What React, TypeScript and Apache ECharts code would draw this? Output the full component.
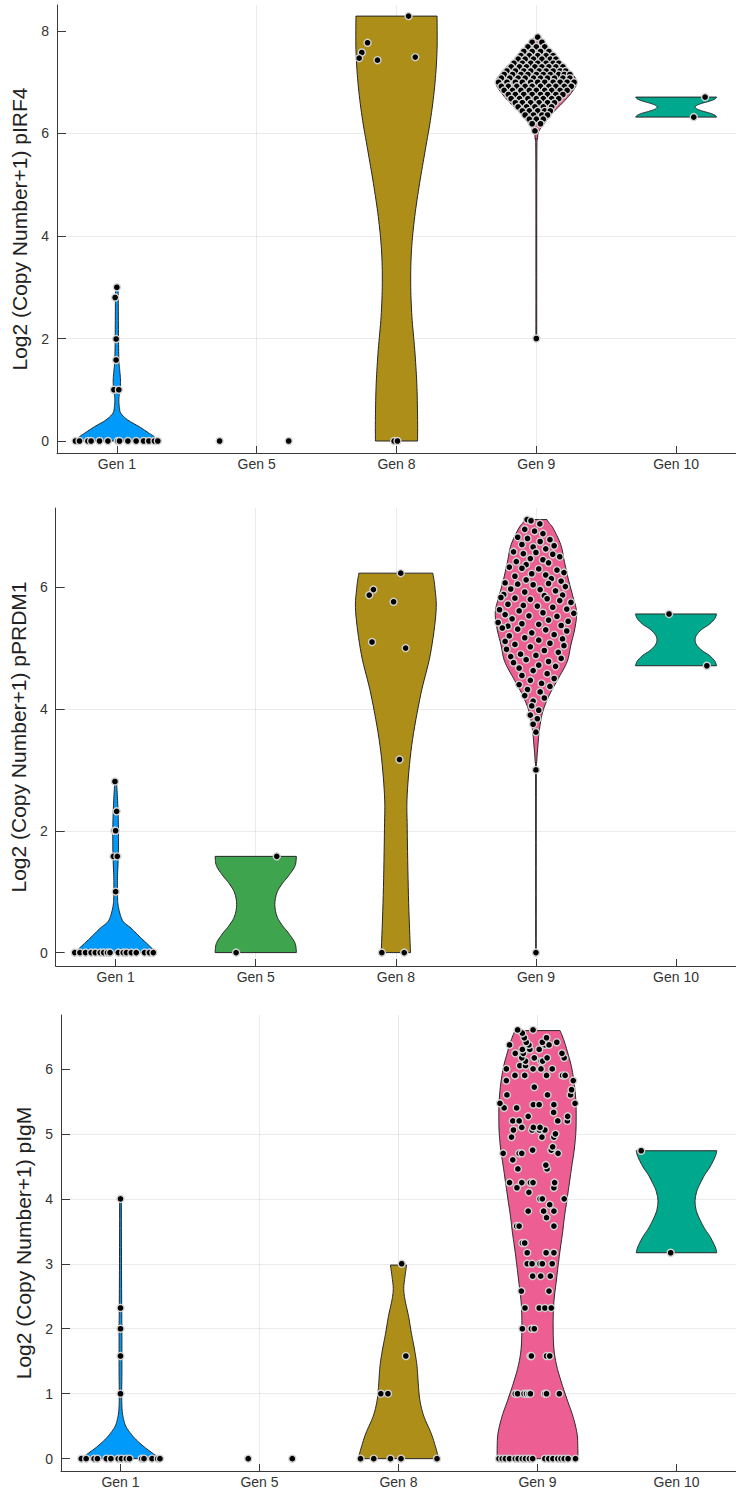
import React, { useEffect, useRef } from "react";
import * as echarts from "echarts";

// ---------- categories, colours, titles ----------
const genLabels = ["Gen 1", "Gen 5", "Gen 8", "Gen 9", "Gen 10"];
const genColors = ["#009AFA", "#3EA44E", "#AC8E18", "#ED5E93", "#00A98D"];
const yTitles = [
  "Log2 (Copy Number+1) pIRF4",
  "Log2 (Copy Number+1) pPRDM1",
  "Log2 (Copy Number+1) pIgM",
];
const yTicksIRF4 = [0, 2, 4, 6, 8];
const yTicksPRDM1 = [0, 2, 4, 6];
const yTicksIgM = [0, 1, 2, 3, 4, 5, 6];
const xTicks = [1, 2, 3, 4, 5];

// ---------- violin outlines: [y, relative half width] ----------
const irf4Gen1Violin = [[0, 1], [0.08, 0.93], [0.15, 0.8], [0.28, 0.55], [0.41, 0.27], [0.54, 0.1], [0.67, 0.06], [0.8, 0.05], [0.9, 0.06], [1.0, 0.08], [1.19, 0.09], [1.39, 0.07], [1.58, 0.05], [2.1, 0.04], [2.75, 0.035], [3.0, 0.03]];
const irf4Gen8Violin = [[0, 0.52], [0.47, 0.52], [1.13, 0.5], [1.78, 0.45], [2.43, 0.38], [3.08, 0.35], [3.73, 0.37], [4.38, 0.45], [5.03, 0.57], [5.68, 0.71], [6.33, 0.85], [6.99, 0.95], [7.64, 1.0], [8.29, 1.0]];
const irf4Gen9Violin = [[2.0, 0.01], [5.5, 0.012], [5.9, 0.03], [6.04, 0.06], [6.2, 0.2], [6.4, 0.4], [6.6, 0.65], [6.8, 0.87], [7.0, 1.0], [7.2, 0.85], [7.4, 0.6], [7.6, 0.35], [7.75, 0.15], [7.88, 0.05]];
const irf4Gen10Violin = [[6.32, 1], [6.36, 0.95], [6.4, 0.82], [6.44, 0.64], [6.48, 0.51], [6.515, 0.47], [6.55, 0.51], [6.59, 0.64], [6.63, 0.82], [6.67, 0.95], [6.71, 1]];

const prdm1Gen1Violin = [[0, 1], [0.08, 0.88], [0.23, 0.64], [0.4, 0.38], [0.5, 0.2], [0.61, 0.12], [0.78, 0.06], [0.95, 0.045], [1.22, 0.045], [1.49, 0.06], [1.77, 0.07], [2.04, 0.07], [2.3, 0.06], [2.6, 0.04], [2.81, 0.02]];
const prdm1Gen5Violin = [[0, 1], [0.15, 0.97], [0.3, 0.83], [0.45, 0.65], [0.6, 0.52], [0.79, 0.47], [0.98, 0.52], [1.13, 0.65], [1.28, 0.83], [1.43, 0.97], [1.58, 1]];
const prdm1Gen8Violin = [[0, 0.36], [0.94, 0.31], [2.04, 0.28], [2.6, 0.28], [3.4, 0.39], [4.23, 0.61], [4.9, 0.85], [5.6, 0.99], [6.0, 0.96], [6.23, 0.91]];
const prdm1Gen9Violin = [[0, 0.006], [2.8, 0.008], [3.14, 0.02], [3.41, 0.05], [3.68, 0.09], [3.96, 0.17], [4.23, 0.33], [4.5, 0.55], [4.78, 0.77], [5.05, 0.86], [5.33, 0.96], [5.6, 1.0], [5.87, 0.9], [6.15, 0.79], [6.42, 0.7], [6.7, 0.61], [6.97, 0.42], [7.05, 0.33], [7.11, 0.27]];
const prdm1Gen10Violin = [[4.71, 1], [4.79, 0.95], [4.88, 0.82], [4.96, 0.64], [5.05, 0.51], [5.135, 0.47], [5.22, 0.51], [5.31, 0.64], [5.39, 0.82], [5.48, 0.95], [5.56, 1]];

const igmGen1Violin = [[0, 1], [0.06, 0.85], [0.18, 0.59], [0.29, 0.39], [0.39, 0.25], [0.49, 0.14], [0.6, 0.08], [0.75, 0.04], [1.0, 0.03], [1.3, 0.035], [1.6, 0.035], [2.0, 0.035], [2.32, 0.03], [3.0, 0.025], [4.0, 0.02]];
const igmGen8Violin = [[0, 1.0], [0.18, 0.92], [0.39, 0.81], [0.65, 0.63], [0.9, 0.53], [1.16, 0.49], [1.42, 0.46], [1.67, 0.4], [1.93, 0.32], [2.19, 0.25], [2.45, 0.16], [2.62, 0.13], [2.8, 0.16], [2.98, 0.2]];
const igmGen9Violin = [[0, 1.0], [0.18, 1.0], [0.39, 0.98], [0.65, 0.88], [0.9, 0.74], [1.16, 0.6], [1.42, 0.48], [1.67, 0.41], [1.93, 0.39], [2.19, 0.39], [2.44, 0.41], [2.7, 0.46], [2.96, 0.51], [3.21, 0.56], [3.47, 0.62], [3.73, 0.67], [3.98, 0.73], [4.24, 0.79], [4.5, 0.85], [4.75, 0.91], [5.01, 0.95], [5.27, 0.96], [5.52, 0.95], [5.78, 0.91], [6.04, 0.84], [6.29, 0.73], [6.45, 0.65], [6.59, 0.56]];
const igmGen10Violin = [[3.17, 1], [3.26, 0.96], [3.42, 0.83], [3.54, 0.7], [3.67, 0.59], [3.8, 0.5], [3.955, 0.46], [4.11, 0.5], [4.24, 0.59], [4.37, 0.7], [4.49, 0.83], [4.65, 0.96], [4.74, 1]];

// ---------- individual cells: [horizontal offset from the category, y] ----------
const irf4Gen1Points = [[-0.296, 0], [-0.267, 0], [-0.207, 0], [-0.184, 0], [-0.124, 0], [-0.064, 0], [0.007, 0], [0.019, 0], [0.079, 0], [0.138, 0], [0.191, 0], [0.229, 0], [0.269, 0], [0.293, 0], [0, 3.0], [-0.012, 2.8], [-0.005, 1.99], [-0.005, 1.58], [-0.021, 1.0], [0.014, 1.0]];
const irf4Gen5Points = [[-0.265, 0], [0.229, 0]];
const irf4Gen8Points = [[0.086, 8.29], [-0.207, 7.77], [-0.248, 7.58], [-0.267, 7.47], [-0.136, 7.43], [0.134, 7.49], [-0.017, 0], [0.007, 0]];
// Gen 9 pIRF4: rows of [y, offsets]
const irf4Gen9Rows: [number, number[]][] = [
  [7.88, [0.01]],
  [7.78, [-0.03, 0.04]],
  [7.69, [-0.06, 0.0, 0.06]],
  [7.6, [-0.09, -0.03, 0.03, 0.09]],
  [7.52, [-0.11, -0.05, 0.01, 0.07, 0.12]],
  [7.45, [-0.13, -0.08, -0.02, 0.04, 0.1, 0.14]],
  [7.37, [-0.16, -0.1, -0.04, 0.01, 0.07, 0.12, 0.16]],
  [7.3, [-0.18, -0.12, -0.07, -0.01, 0.04, 0.09, 0.14, 0.19]],
  [7.22, [-0.21, -0.15, -0.09, -0.04, 0.02, 0.07, 0.12, 0.17, 0.21]],
  [7.15, [-0.23, -0.17, -0.11, -0.06, 0.0, 0.05, 0.1, 0.16, 0.2, 0.24]],
  [7.08, [-0.25, -0.19, -0.13, -0.08, -0.02, 0.03, 0.08, 0.13, 0.19, 0.24]],
  [7.0, [-0.27, -0.21, -0.15, -0.1, -0.04, 0.01, 0.06, 0.12, 0.17, 0.22, 0.27]],
  [6.92, [-0.25, -0.2, -0.14, -0.08, -0.03, 0.03, 0.09, 0.14, 0.2, 0.25]],
  [6.84, [-0.23, -0.17, -0.11, -0.05, 0.0, 0.06, 0.11, 0.17, 0.22]],
  [6.76, [-0.2, -0.15, -0.09, -0.03, 0.03, 0.08, 0.14, 0.19]],
  [6.68, [-0.18, -0.12, -0.06, 0.0, 0.05, 0.11, 0.16]],
  [6.6, [-0.15, -0.1, -0.04, 0.02, 0.08, 0.13]],
  [6.52, [-0.13, -0.07, -0.01, 0.05, 0.11]],
  [6.44, [-0.1, -0.05, 0.01, 0.06, 0.1]],
  [6.36, [-0.08, -0.02, 0.04, 0.08]],
  [6.28, [-0.05, 0.0, 0.05]],
  [6.19, [-0.03, 0.03]],
  [6.05, [-0.01]],
  [2.0, [0.0]],
];
const irf4Gen10Points = [[0.207, 6.71], [0.126, 6.32]];

const prdm1Gen1Points = [[-0.292, 0], [-0.255, 0], [-0.215, 0], [-0.175, 0], [-0.145, 0], [-0.11, 0], [-0.086, 0], [-0.058, 0], [-0.04, 0], [0.019, 0], [0.054, 0], [0.077, 0], [0.112, 0], [0.147, 0], [0.206, 0], [0.241, 0], [0.269, 0], [-0.005, 2.81], [0.007, 2.32], [-0.009, 2.0], [0.0, 2.0], [-0.016, 1.58], [0.012, 1.58], [0, 1.0]];
const prdm1Gen5Points = [[0.15, 1.58], [-0.14, 0]];
const prdm1Gen8Points = [[0.035, 6.23], [-0.16, 5.96], [-0.19, 5.87], [-0.016, 5.76], [-0.17, 5.1], [0.07, 5.0], [0.026, 3.17], [-0.1, 0], [0.06, 0]];
const prdm1Gen9Points = [
  [-0.063, 7.11], [-0.035, 7.09], [0.028, 7.04], [-0.08, 6.95], [-0.01, 6.92], [0.05, 6.88],
  [-0.13, 6.82], [-0.06, 6.8], [0.1, 6.78], [0.03, 6.75], [-0.1, 6.7], [0.13, 6.68], [-0.02, 6.66], [0.07, 6.63],
  [-0.16, 6.58], [-0.09, 6.55], [0.0, 6.57], [0.12, 6.54], [0.17, 6.5], [-0.04, 6.47], [0.05, 6.45], [-0.14, 6.42], [0.09, 6.4], [-0.07, 6.37],
  [-0.19, 6.33], [-0.1, 6.31], [0.02, 6.3], [0.15, 6.28], [0.2, 6.24], [-0.03, 6.22], [0.07, 6.2], [-0.15, 6.18], [0.11, 6.14], [-0.07, 6.12], [0.18, 6.1],
  [-0.22, 6.07], [-0.13, 6.05], [-0.02, 6.04], [0.09, 6.06], [0.21, 6.01], [-0.18, 5.97], [0.03, 5.96], [0.14, 5.94], [-0.08, 5.92], [-0.23, 5.88], [0.19, 5.87], [0.06, 5.86],
  [-0.25, 5.83], [-0.15, 5.82], [-0.04, 5.8], [0.08, 5.81], [0.17, 5.78], [0.25, 5.75], [-0.2, 5.72], [-0.09, 5.7], [0.01, 5.69], [0.12, 5.67], [0.22, 5.64], [-0.26, 5.63], [-0.12, 5.61],
  [0.05, 5.58], [0.27, 5.57], [-0.22, 5.55], [-0.05, 5.53], [0.15, 5.52], [-0.17, 5.48], [0.09, 5.46], [0.23, 5.44], [-0.27, 5.42], [-0.1, 5.4], [0.02, 5.39], [0.18, 5.37], [-0.2, 5.36],
  [-0.24, 5.33], [-0.13, 5.31], [0.07, 5.3], [0.22, 5.28], [-0.03, 5.25], [0.13, 5.22], [-0.19, 5.2], [-0.08, 5.17], [0.19, 5.15], [0.02, 5.13], [-0.22, 5.11],
  [0.1, 5.08], [-0.15, 5.06], [0.2, 5.04], [-0.04, 5.02], [-0.21, 4.98], [0.06, 4.96], [0.16, 4.93], [-0.11, 4.9], [0.0, 4.88], [-0.18, 4.86],
  [0.18, 4.83], [-0.07, 4.81], [0.09, 4.78], [-0.16, 4.76], [0.02, 4.72], [0.14, 4.7], [-0.12, 4.67], [-0.02, 4.63],
  [0.08, 4.58], [-0.1, 4.55], [0.13, 4.5], [-0.04, 4.47], [0.04, 4.42], [-0.12, 4.4], [0.1, 4.37],
  [-0.06, 4.32], [0.03, 4.28], [-0.08, 4.22], [0.06, 4.18], [-0.02, 4.13],
  [-0.03, 4.05], [0.02, 3.98], [-0.04, 3.9], [0.01, 3.84],
  [-0.02, 3.75], [0.0, 3.62], [0, 3.0], [0, 0],
];
const prdm1Gen10Points = [[-0.05, 5.56], [0.22, 4.71]];

const igmGen1Points = [[-0.282, 0], [-0.247, 0], [-0.19, 0], [-0.166, 0], [-0.102, 0], [-0.069, 0], [-0.016, 0], [0.007, 0], [0.042, 0], [0.065, 0], [0.153, 0], [0.169, 0], [0.227, 0], [0.268, 0], [0.284, 0], [0, 4.0], [0, 2.32], [0, 2.0], [0, 1.58], [0, 1.0]];
const igmGen5Points = [[-0.081, 0], [0.236, 0]];
const igmGen8Points = [[-0.273, 0], [-0.178, 0], [-0.058, 0], [0.018, 0], [0.277, 0], [-0.127, 1.0], [-0.076, 1.0], [0.053, 1.58], [0.023, 3.0]];
const igmGen9Points = [
  [-0.277, 0], [-0.254, 0], [-0.231, 0], [-0.201, 0], [-0.16, 0], [-0.139, 0], [-0.109, 0], [-0.086, 0], [-0.058, 0], [-0.035, 0], [0.053, 0], [0.081, 0], [0.111, 0], [0.146, 0], [0.169, 0], [0.192, 0], [0.22, 0], [0.273, 0],
  [-0.16, 1.0], [-0.143, 1.0], [-0.097, 1.0], [-0.079, 1.0], [-0.062, 1.0], [-0.051, 1.0], [0.053, 1.0], [0.065, 1.0], [0.157, 1.0],
  [-0.051, 1.58], [-0.044, 1.58], [0.065, 1.58], [0.088, 1.58],
  [-0.109, 2.0], [-0.044, 2.0], [-0.023, 2.0],
  [-0.09, 2.32], [0.012, 2.32], [0.053, 2.32], [0.099, 2.32],
  [-0.116, 2.58], [0.083, 2.58],
  [-0.035, 2.81], [0.023, 2.81], [0.092, 2.81],
  [-0.074, 3.0], [-0.039, 3.0], [0.018, 3.0], [0.035, 3.0], [0.106, 3.0],
  [-0.074, 3.17], [0.062, 3.17], [0.118, 3.17],
  [-0.109, 3.32], [-0.092, 3.32],
  [-0.15, 3.58], [-0.132, 3.58], [0.118, 3.58],
  [0.065, 3.71], [-0.067, 3.81], [0.044, 3.81], [0.118, 3.81], [0.088, 3.91],
  [0.018, 4.0], [0.035, 4.0], [0.192, 4.0],
  [-0.062, 4.1], [-0.148, 4.17], [0.118, 4.17],
  [-0.201, 4.25], [-0.113, 4.25], [-0.051, 4.25], [-0.032, 4.25], [0.123, 4.25],
  [-0.141, 4.46], [0.069, 4.46], [0.06, 4.52], [-0.178, 4.6],
  [-0.247, 4.7], [-0.132, 4.7], [-0.113, 4.7], [0.148, 4.7],
  [-0.035, 4.75], [0.099, 4.75], [0.109, 4.8],
  [-0.187, 4.95], [0.032, 4.95], [0.118, 4.95], [0.129, 5.0],
  [-0.173, 5.06], [-0.039, 5.06], [0.014, 5.06], [0.053, 5.06],
  [-0.113, 5.1], [-0.03, 5.1], [0.018, 5.1],
  [-0.178, 5.2], [-0.132, 5.2], [0.146, 5.2], [0.215, 5.2],
  [-0.067, 5.27], [0.217, 5.27], [0.116, 5.33],
  [-0.24, 5.4], [-0.15, 5.4], [-0.03, 5.45], [0.012, 5.45], [0.118, 5.45],
  [-0.27, 5.47], [0.27, 5.47],
  [-0.22, 5.6], [0.072, 5.6], [0.238, 5.6], [0.245, 5.68], [-0.023, 5.72],
  [-0.224, 5.82], [0.257, 5.82],
  [-0.162, 5.9], [-0.092, 5.9], [0.065, 5.9], [0.18, 5.9], [0.199, 5.9],
  [-0.224, 6.0], [-0.032, 6.0], [0.025, 6.0], [0.106, 6.0],
  [-0.127, 6.05], [-0.086, 6.05],
  [-0.086, 6.12], [0.025, 6.12], [0.037, 6.12],
  [-0.113, 6.17], [-0.023, 6.17], [0.069, 6.17], [0.192, 6.17],
  [-0.16, 6.24], [-0.102, 6.24], [0.176, 6.24],
  [-0.109, 6.3], [-0.055, 6.3], [0.012, 6.3],
  [-0.201, 6.37], [-0.062, 6.37], [0.053, 6.37], [0.083, 6.37],
  [-0.081, 6.41], [0.035, 6.41], [0.139, 6.41],
  [-0.095, 6.48], [0.065, 6.48], [-0.109, 6.55],
  [-0.143, 6.6], [-0.032, 6.6],
];
const igmGen10Points = [[-0.254, 4.74], [-0.042, 3.17]];

// ---------- layout ----------
const X_MIN = 0.572;
const X_MAX = 5.428;
const HALF = 0.29;
const FONT = '"Liberation Sans", Arial, Helvetica, sans-serif';
const layouts = [
  { left: 57, top: 5, width: 679, height: 448, yMin: -0.234, yMax: 8.507 },
  { left: 52, top: 508, width: 692, height: 458, yMin: -0.22, yMax: 7.3 },
  { left: 61, top: 1015, width: 690, height: 456, yMin: -0.19, yMax: 6.83 },
];

const irf4Gen9Points = irf4Gen9Rows.flatMap(([y, offs]) => offs.map((d) => [d, y]));

const panels = [
  {
    title: yTitles[0],
    yTicks: yTicksIRF4,
    violins: [irf4Gen1Violin, null, irf4Gen8Violin, irf4Gen9Violin, irf4Gen10Violin],
    points: [irf4Gen1Points, irf4Gen5Points, irf4Gen8Points, irf4Gen9Points, irf4Gen10Points],
  },
  {
    title: yTitles[1],
    yTicks: yTicksPRDM1,
    violins: [prdm1Gen1Violin, prdm1Gen5Violin, prdm1Gen8Violin, prdm1Gen9Violin, prdm1Gen10Violin],
    points: [prdm1Gen1Points, prdm1Gen5Points, prdm1Gen8Points, prdm1Gen9Points, prdm1Gen10Points],
  },
  {
    title: yTitles[2],
    yTicks: yTicksIgM,
    violins: [igmGen1Violin, null, igmGen8Violin, igmGen9Violin, igmGen10Violin],
    points: [igmGen1Points, igmGen5Points, igmGen8Points, igmGen9Points, igmGen10Points],
  },
];

// Catmull-Rom smoothing of an outline (rendering only)
function smoothProfile(pts: number[][], steps = 8): number[][] {
  const out: number[][] = [];
  const n = pts.length;
  for (let i = 0; i < n - 1; i++) {
    const p0 = pts[Math.max(i - 1, 0)];
    const p1 = pts[i];
    const p2 = pts[i + 1];
    const p3 = pts[Math.min(i + 2, n - 1)];
    for (let s = 0; s < steps; s++) {
      const t = s / steps;
      const t2 = t * t;
      const t3 = t2 * t;
      const f = (k: number) =>
        0.5 *
        (2 * p1[k] +
          (-p0[k] + p2[k]) * t +
          (2 * p0[k] - 5 * p1[k] + 4 * p2[k] - p3[k]) * t2 +
          (-p0[k] + 3 * p1[k] - 3 * p2[k] + p3[k]) * t3);
      out.push([f(0), Math.max(f(1), 0.003)]);
    }
  }
  out.push(pts[n - 1]);
  return out;
}

function buildOption() {
  const grid: any[] = [];
  const xAxis: any[] = [];
  const yAxis: any[] = [];
  const series: any[] = [];
  const axisColor = "#3a3a3a";
  const gridColor = "rgba(0,0,0,0.08)";

  panels.forEach((p, i) => {
    const L = layouts[i];
    grid.push({ left: L.left, top: L.top, width: L.width, height: L.height, containLabel: false });
    xAxis.push({
      type: "value",
      gridIndex: i,
      min: X_MIN,
      max: X_MAX,
      axisLine: { show: true, onZero: false, lineStyle: { color: axisColor, width: 1 } },
      axisTick: { show: true, inside: true, length: 7, customValues: xTicks, lineStyle: { color: axisColor } },
      axisLabel: {
        customValues: xTicks,
        formatter: (v: number) => genLabels[Math.round(v) - 1] ?? "",
        margin: 4,
        fontSize: 14,
        color: "#333",
        fontFamily: FONT,
      },
      splitLine: { show: true, showMinLine: false, showMaxLine: false, lineStyle: { color: gridColor, width: 1 } },
    });
    yAxis.push({
      type: "value",
      gridIndex: i,
      min: L.yMin,
      max: L.yMax,
      name: p.title,
      nameLocation: "middle",
      nameGap: 20,
      nameTextStyle: { fontSize: 21, color: "#222", fontFamily: FONT },
      axisLine: { show: true, onZero: false, lineStyle: { color: axisColor, width: 1 } },
      axisTick: { show: true, inside: true, length: 9, customValues: p.yTicks, lineStyle: { color: axisColor } },
      axisLabel: { customValues: p.yTicks, margin: 8, fontSize: 14, color: "#333", fontFamily: FONT },
      splitLine: { show: true, showMinLine: false, showMaxLine: false, lineStyle: { color: gridColor, width: 1 } },
    });

    const violinItems = p.violins
      .map((prof, g) => (prof ? { x: g + 1, prof, color: genColors[g] } : null))
      .filter((v) => v !== null) as { x: number; prof: number[][]; color: string }[];

    series.push({
      type: "custom",
      xAxisIndex: i,
      yAxisIndex: i,
      silent: true,
      z: 2,
      data: violinItems.map((v) => [v.x, v.prof[0][0]]),
      renderItem: (params: any, api: any) => {
        const v = violinItems[params.dataIndex];
        const sm = smoothProfile(v.prof);
        const right = sm.map(([y, w]) => api.coord([v.x + w * HALF, y]));
        const left = sm
          .slice()
          .reverse()
          .map(([y, w]) => api.coord([v.x - w * HALF, y]));
        return {
          type: "polygon",
          shape: { points: right.concat(left) },
          style: { fill: v.color, stroke: "#262626", lineWidth: 1 },
        };
      },
    });

    const pts: number[][] = [];
    p.points.forEach((list, g) => {
      list.forEach(([dx, y]) => pts.push([g + 1 + dx, y]));
    });
    series.push({
      type: "scatter",
      xAxisIndex: i,
      yAxisIndex: i,
      silent: true,
      z: 3,
      symbol: "circle",
      symbolSize: 7,
      data: pts,
      itemStyle: { color: "#000", borderColor: "#d2d2d2", borderWidth: 1.4, opacity: 1 },
    });
  });

  return {
    animation: false,
    backgroundColor: "#ffffff",
    textStyle: { fontFamily: FONT },
    grid,
    xAxis,
    yAxis,
    series,
  };
}

export default function App() {
  const ref = useRef<HTMLDivElement>(null);
  useEffect(() => {
    if (!ref.current) return;
    const chart = echarts.init(ref.current, undefined, { renderer: "svg" });
    chart.setOption(buildOption() as any);
    return () => chart.dispose();
  }, []);
  return (
    <div
      ref={ref}
      style={{ position: "absolute", left: 0, top: 0, width: 736, height: 1493, background: "#fff" }}
    />
  );
}
